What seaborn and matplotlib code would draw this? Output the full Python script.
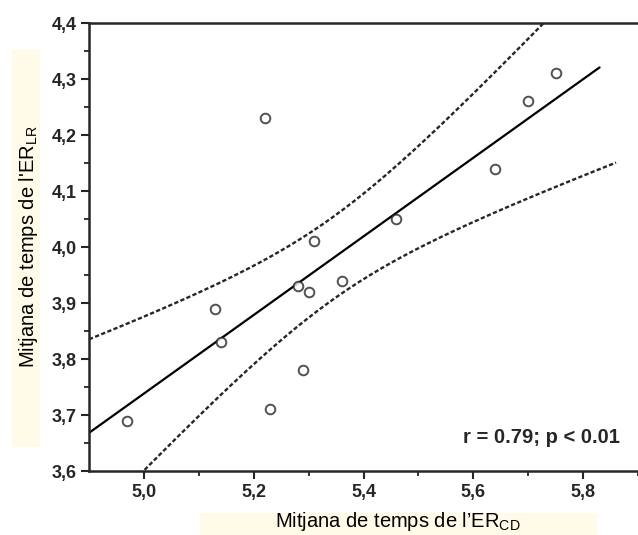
import numpy as np
import pandas as pd
import seaborn as sns
import matplotlib.pyplot as plt
from matplotlib.patches import Rectangle

# mean times (ER_CD vs ER_LR)
er_cd = [4.97, 5.13, 5.14, 5.22, 5.23, 5.28, 5.29, 5.30, 5.31, 5.36, 5.46, 5.64, 5.70, 5.75]
er_lr = [3.69, 3.89, 3.83, 4.23, 3.71, 3.93, 3.78, 3.92, 4.01, 3.94, 4.05, 4.14, 4.26, 4.31]

xticks = [5.0, 5.2, 5.4, 5.6, 5.8]
xtick_labels = ['5,0', '5,2', '5,4', '5,6', '5,8']
yticks = [3.6, 3.7, 3.8, 3.9, 4.0, 4.1, 4.2, 4.3, 4.4]
ytick_labels = ['3,6', '3,7', '3,8', '3,9', '4,0', '4,1', '4,2', '4,3', '4,4']
stats_text = 'r = 0.79; p < 0.01'

df = pd.DataFrame({'cd': er_cd, 'lr': er_lr})

sns.set_style('ticks')
plt.rcParams['font.family'] = ['Liberation Sans', 'DejaVu Sans']
plt.rcParams['mathtext.fontset'] = 'custom'
plt.rcParams['mathtext.rm'] = 'Liberation Sans'

dark = '#262626'
fig = plt.figure(figsize=(6.38, 5.35), dpi=100)
ax = fig.add_axes([0.1395, 0.1196, 0.8605, 0.8374])

# pale highlight behind the axis labels
fig.patches.append(Rectangle((12 / 638, 1 - 447 / 535), 28 / 638, 397 / 535,
                             transform=fig.transFigure, facecolor='#fffbe8',
                             edgecolor='none', zorder=-1))
fig.patches.append(Rectangle((200 / 638, 0), 397 / 638, 22 / 535,
                             transform=fig.transFigure, facecolor='#fffbe8',
                             edgecolor='none', zorder=-1))

# regression line: extend to 5.83 by setting limits before drawing
ax.set_xlim(4.9, 5.83)
sns.regplot(x='cd', y='lr', data=df, ax=ax, ci=None, truncate=False,
            scatter_kws=dict(s=48, facecolors='white', edgecolors=dark, linewidths=1.4, zorder=3),
            line_kws=dict(color='black', lw=1.6, zorder=2))

# 95% confidence band of the mean, dashed
x = np.array(er_cd)
y = np.array(er_lr)
n = len(x)
slope, icpt = np.polyfit(x, y, 1)
resid = y - (slope * x + icpt)
s = np.sqrt(np.sum(resid ** 2) / (n - 2))
sxx = np.sum((x - x.mean()) ** 2)
t_crit = 2.179  # t(0.975, df=12)
xs = np.linspace(4.9, 5.86, 200)
yhat = slope * xs + icpt
half = t_crit * s * np.sqrt(1 / n + (xs - x.mean()) ** 2 / sxx)
band = pd.DataFrame({'x': np.concatenate([xs, xs]),
                     'y': np.concatenate([yhat + half, yhat - half]),
                     'side': ['upper'] * len(xs) + ['lower'] * len(xs)})
for side in ['upper', 'lower']:
    sns.lineplot(x='x', y='y', data=band[band.side == side], ax=ax, color=dark,
                 lw=1.7, linestyle=(0, (1.8, 1.0)), estimator=None, sort=False)

ax.set_xlim(4.9, 5.9)
ax.set_ylim(3.6, 4.4)
ax.set_xticks(xticks)
ax.set_xticklabels(xtick_labels)
ax.set_yticks(yticks)
ax.set_yticklabels(ytick_labels)
ax.set_xticks(np.arange(5.1, 5.9, 0.2), minor=True)
ax.set_yticks(np.arange(3.65, 4.4, 0.1), minor=True)
ax.tick_params(which='major', length=6, width=1.5, color=dark, labelsize=13,
               labelcolor=dark, pad=3)
ax.tick_params(which='minor', length=3.5, width=1.3, color=dark)
for lab in ax.get_xticklabels() + ax.get_yticklabels():
    lab.set_fontweight('bold')

for side in ['top', 'left', 'bottom']:
    ax.spines[side].set_linewidth(1.8)
    ax.spines[side].set_color(dark)
ax.spines['right'].set_visible(False)

ax.set_xlabel("Mitjana de temps de l\u2019ER$_{\\mathrm{CD}}$", fontsize=14.5, color='black')
ax.set_ylabel("Mitjana de temps de l'ER$_{\\mathrm{LR}}$", fontsize=14.5, color='black')
ax.xaxis.set_label_coords(0.563, -0.088)
ax.yaxis.set_label_coords(-0.09, 0.5)

ax.text(0.967, 0.074, stats_text, transform=ax.transAxes, ha='right', va='center',
        fontsize=14.5, fontweight='bold', color=dark)

fig.savefig('out.png', dpi=100)
